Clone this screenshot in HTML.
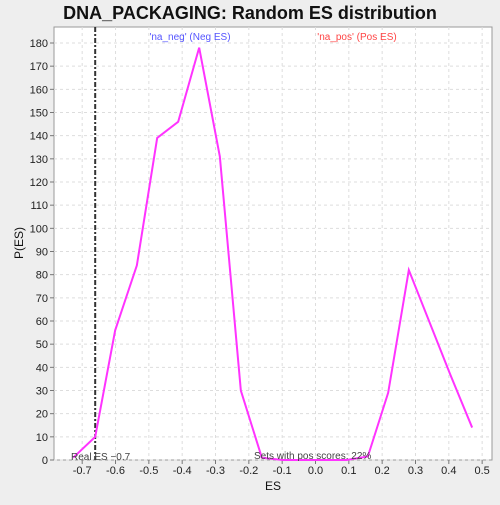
<!DOCTYPE html>
<html><head><meta charset="utf-8"><style>
body{margin:0;background:#eeeeee;font-family:"Liberation Sans","DejaVu Sans",sans-serif}
</style></head><body>
<svg width="500" height="500" xmlns="http://www.w3.org/2000/svg">
<rect x="0" y="0" width="500" height="500" fill="#eeeeee"/>
<text x="250" y="19" text-anchor="middle" font-size="18" font-weight="bold" fill="#111">DNA_PACKAGING: Random ES distribution</text>
<rect x="54" y="27" width="438" height="433" fill="#fff" stroke="#999"/>
<g id="grid"></g><g id="axes"></g><g id="series"></g>
<text x="190" y="40" text-anchor="middle" font-size="10" fill="#5555ff">'na_neg' (Neg ES)</text>
<text x="357" y="40" text-anchor="middle" font-size="10" fill="#ff4444">'na_pos' (Pos ES)</text>
<text x="71" y="460" font-size="10" fill="#444">Real ES −0.7</text>
<text x="254" y="459" font-size="10" fill="#444">Sets with pos scores: 22%</text>
<text x="273" y="490" text-anchor="middle" font-size="12" fill="#111">ES</text>
<text x="23" y="243" text-anchor="middle" font-size="12" fill="#111" transform="rotate(-90 23 243)">P(ES)</text>
</svg>
<script>
const esValues=[-0.727,-0.661,-0.601,-0.536,-0.475,-0.412,-0.349,-0.287,-0.224,-0.161,-0.098,-0.035,0.03,0.093,0.157,0.218,0.28,0.404,0.47];
const pValues=[1,10,56,84,139,146,178,131,30,1,0,0,0,0,1.5,29,82,37,14];
const xTicks=[-0.7,-0.6,-0.5,-0.4,-0.3,-0.2,-0.1,0.0,0.1,0.2,0.3,0.4,0.5];
const yTicks=[0,10,20,30,40,50,60,70,80,90,100,110,120,130,140,150,160,170,180];
const realES=-0.661;
const NS="http://www.w3.org/2000/svg";
const sx=v=>315.5+v*333.3, sy=v=>460-v*2.3167;
function mk(t,a,p){const e=document.createElementNS(NS,t);for(const k in a)e.setAttribute(k,a[k]);document.getElementById(p).appendChild(e);return e;}
xTicks.forEach(t=>{const x=sx(t);
const g=mk('line',{x1:x,x2:x,y1:27,y2:460,stroke:'#ddd','stroke-dasharray':'3,3'},'grid');


mk('line',{x1:x,x2:x,y1:460,y2:464,stroke:'#777'},'axes');
const l=mk('text',{x:x,y:474,'text-anchor':'middle','font-size':11,fill:'#222'},'axes');
l.textContent=t.toFixed(1);

});
yTicks.forEach(t=>{const y=sy(t);
const g=mk('line',{x1:54,x2:492,y1:y,y2:y,stroke:'#ddd','stroke-dasharray':'3,3'},'grid');


mk('line',{x1:50,x2:54,y1:y,y2:y,stroke:'#777'},'axes');
const l=mk('text',{x:48,y:y+4,'text-anchor':'end','font-size':11,fill:'#222'},'axes');
l.textContent=t;

});
const rl=mk('line',{x1:sx(realES),x2:sx(realES),y1:27,y2:460,stroke:'#333','stroke-width':2,'stroke-dasharray':'5,2,2,2'},'series');


const pl=mk('polyline',{points:esValues.map((v,i)=>sx(v)+','+sy(pValues[i])).join(' '),fill:'none',stroke:'#ff33ff','stroke-width':2},'series');


</script>
</body></html>
